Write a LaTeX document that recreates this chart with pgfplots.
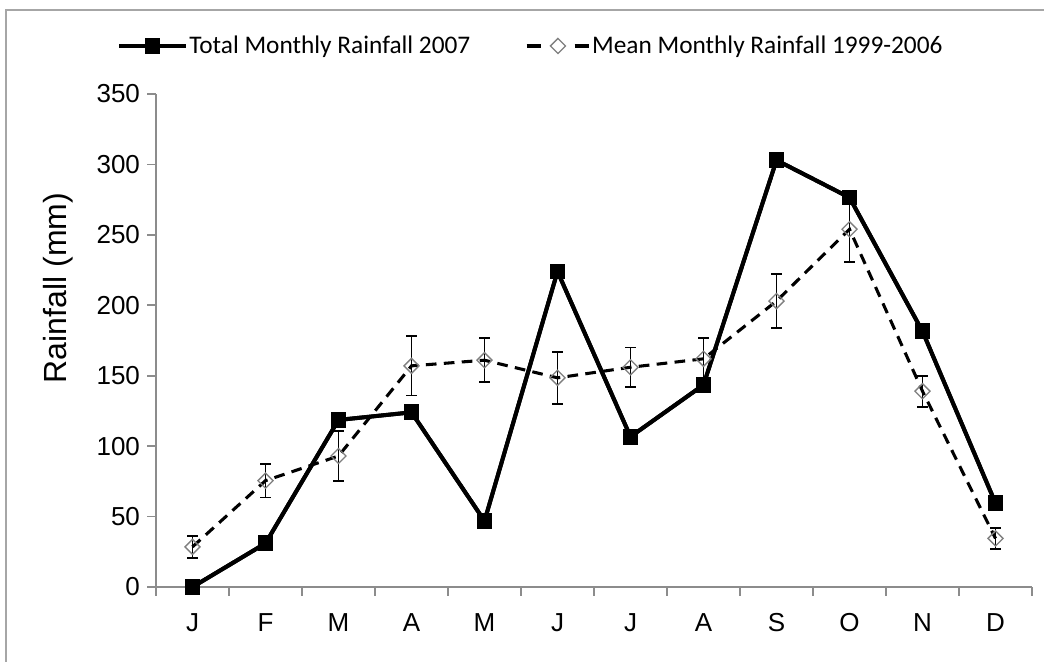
\documentclass[border=0pt]{standalone}
\usepackage{pgfplots}
\pgfplotsset{compat=1.18}
\usepackage{fontspec}
\setmainfont{Liberation Sans}
\newfontfamily\legfont{Carlito}
\definecolor{axgray}{HTML}{8C8C8C}
\definecolor{framegray}{HTML}{A6A6A6}
\definecolor{diagray}{HTML}{7F7F7F}
\pgfplotsset{meanlegend/.style={legend image code/.code={\draw[mark repeat=2,mark phase=2,##1, dash pattern=on 11pt off 25pt] plot coordinates {(0pt,0pt) (23.5pt,0pt) (47pt,0pt)};}}}
\begin{document}
\begin{tikzpicture}
\useasboundingbox (0,0) rectangle (783pt,495.75pt);
\draw[framegray, line width=1.5pt] (4.5pt,-20pt) rectangle (800pt,488.25pt);
\begin{axis}[
  at={(117pt,55.5pt)}, anchor=south west,
  scale only axis, width=657pt, height=369.75pt,
  xmin=-0.5, xmax=11.5, ymin=0, ymax=350,
  axis lines*=left,
  axis line style={-, draw=axgray, line width=1.2pt},
  tick align=outside,
  xtick={0,...,11},
  xticklabels={J,F,M,A,M,J,J,A,S,O,N,D},
  major x tick style={draw=none},
  minor xtick={-0.5,0.5,...,11.5},
  minor tick length=6.5pt,
  minor x tick style={draw=axgray, line width=1.2pt},
  ytick={0,50,...,350},
  major tick length=6.5pt,
  ytick style={draw=axgray, line width=1.2pt},
  /pgf/number format/assume math mode=true,
  tick label style={font=\fontsize{19.5}{23}\selectfont, black},
  xticklabel style={yshift=-10pt},
  yticklabel style={xshift=-2pt},
  clip=false,
  legend columns=2,
  legend style={at={(axis description cs:-0.0445,1.0974)}, anchor=west,
    draw=none, fill=none, inner sep=0pt, font=\legfont\fontsize{19}{22}\selectfont,
    /tikz/every even column/.append style={column sep=40pt},
    nodes={inner sep=1pt}},
  legend image code/.code={\draw[mark repeat=2,mark phase=2,#1] plot coordinates {(0pt,0pt) (25pt,0pt) (50pt,0pt)};},
]
\addplot[black, line width=3pt, mark=square*, mark size=4.4pt, mark options={solid}]
  coordinates {(0,0) (1,31) (2,118.6) (3,124) (4,46.9) (5,224) (6,106.7) (7,143.5) (8,303) (9,276.5) (10,181.5) (11,59.5)};
\addlegendentry{Total Monthly Rainfall 2007}
\addplot[black, line width=2.3pt, dash pattern=on 8pt off 5.5pt,
  mark=square, mark size=4pt, mark options={solid, rotate=45, draw=diagray, line width=1pt, fill=none},
  meanlegend]
  coordinates {(0,28.5) (1,75.5) (2,93) (3,157) (4,161) (5,148.5) (6,156) (7,162) (8,203) (9,254) (10,139) (11,34.5)};
\addlegendentry{Mean Monthly Rainfall 1999-2006}
\addplot[black, solid, line width=1.4pt, mark=none, draw=none, forget plot,
  error bars/.cd, y dir=both, y explicit, error mark=|,
  error bar style={solid, draw=black, line width=1.4pt},
  error mark options={solid, draw=black, line width=1.4pt, mark size=4pt}]
  coordinates {
  (0,28.5) +- (0,8)
  (1,75.5) +- (0,12)
  (2,93) +- (0,18)
  (3,157) +- (0,21)
  (4,161) +- (0,15.5)
  (5,148.5) +- (0,18.5)
  (6,156) +- (0,14)
  (7,162) +- (0,15)
  (8,203) +- (0,19)
  (9,254) +- (0,23)
  (10,139) +- (0,11)
  (11,34.5) +- (0,7.5)};
\addplot[black, line width=3pt, mark=square*, mark size=4.4pt, mark options={solid}, forget plot]
  coordinates {(0,0) (1,31) (2,118.6) (3,124) (4,46.9) (5,224) (6,106.7) (7,143.5) (8,303) (9,276.5) (10,181.5) (11,59.5)};
\end{axis}
\node[rotate=90, font=\fontsize{24}{28}\selectfont] at (43.5pt,279.75pt) {Rainfall (mm)};
\end{tikzpicture}
\end{document}
